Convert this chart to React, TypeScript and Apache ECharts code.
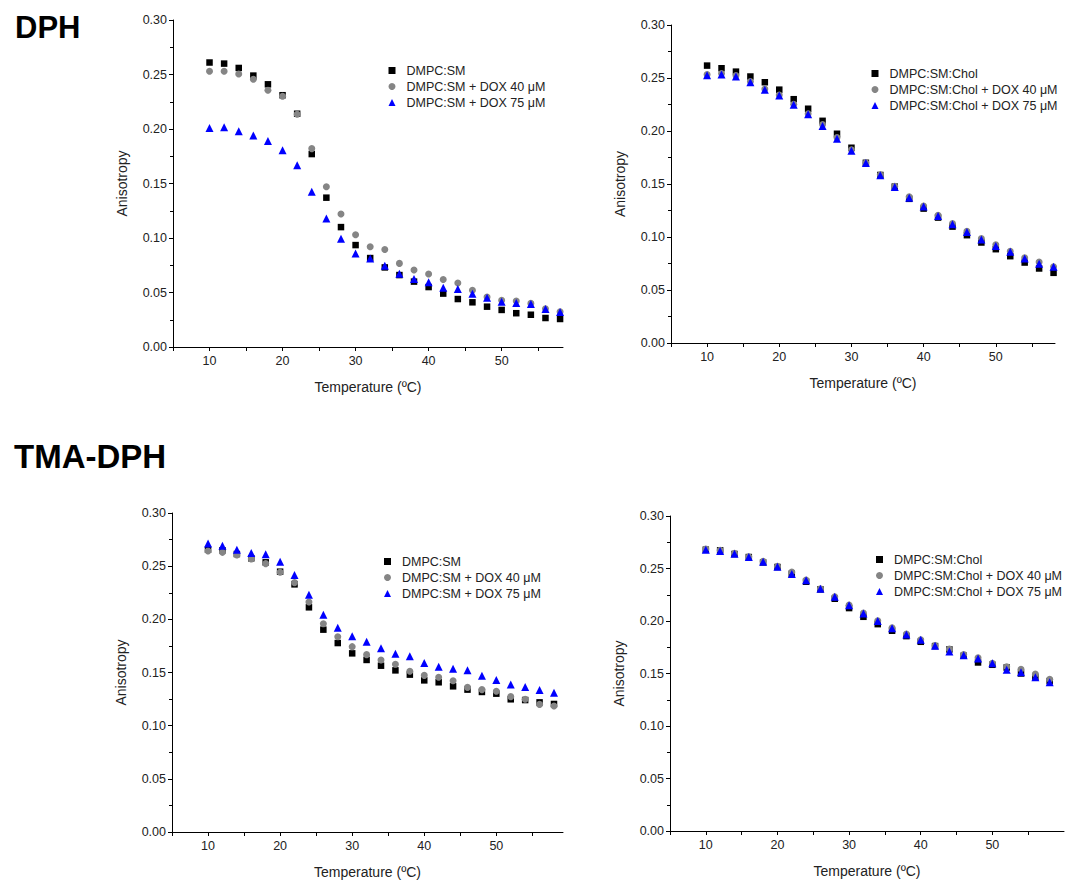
import React, { useEffect, useRef } from "react";
import * as echarts from "echarts";

const temps = [10, 12, 14, 16, 18, 20, 22, 24, 26, 28, 30, 32, 34, 36, 38, 40, 42, 44, 46, 48, 50, 52, 54, 56, 58];

// DPH, DMPC:SM
const dphSm = [0.261, 0.26, 0.256, 0.249, 0.241, 0.231, 0.214, 0.177, 0.137, 0.11, 0.0935, 0.0816, 0.073, 0.066, 0.06, 0.055, 0.049, 0.044, 0.041, 0.037, 0.034, 0.031, 0.0296, 0.0266, 0.0257];
const dphSm40 = [0.253, 0.253, 0.2505, 0.2457, 0.2356, 0.23, 0.2136, 0.182, 0.147, 0.122, 0.103, 0.092, 0.0895, 0.0767, 0.0706, 0.0669, 0.062, 0.0587, 0.052, 0.0458, 0.0428, 0.0422, 0.04, 0.035, 0.0324];
const dphSm75 = [0.201, 0.2017, 0.198, 0.194, 0.189, 0.1806, 0.1668, 0.1424, 0.118, 0.0993, 0.0858, 0.0813, 0.0745, 0.0672, 0.0623, 0.0593, 0.0544, 0.0532, 0.0489, 0.0452, 0.0416, 0.0403, 0.0394, 0.0348, 0.0321];

// DPH, DMPC:SM:Chol
const dphChol = [0.2617, 0.2592, 0.256, 0.2514, 0.246, 0.239, 0.23, 0.221, 0.2096, 0.1974, 0.1842, 0.17, 0.1585, 0.1475, 0.136, 0.1268, 0.1183, 0.1098, 0.1017, 0.0948, 0.0885, 0.0819, 0.0759, 0.0703, 0.0662];
const dphChol40 = [0.2532, 0.2542, 0.2523, 0.2466, 0.2397, 0.234, 0.2253, 0.2162, 0.2062, 0.1939, 0.1823, 0.17, 0.1588, 0.1478, 0.138, 0.1293, 0.1205, 0.1127, 0.1054, 0.0985, 0.0926, 0.0866, 0.0803, 0.0763, 0.0719];
const dphChol75 = [0.2526, 0.2532, 0.2514, 0.246, 0.239, 0.2335, 0.2247, 0.2159, 0.2046, 0.1927, 0.1814, 0.1698, 0.1582, 0.1472, 0.1371, 0.1287, 0.1199, 0.112, 0.1048, 0.0976, 0.0916, 0.086, 0.0797, 0.0747, 0.0719];

// TMA-DPH, DMPC:SM
const tmaSm = [0.2655, 0.2649, 0.2614, 0.2574, 0.2536, 0.2448, 0.2329, 0.2113, 0.1903, 0.1777, 0.168, 0.1618, 0.1564, 0.152, 0.148, 0.1426, 0.1408, 0.137, 0.1339, 0.1317, 0.1301, 0.1248, 0.1241, 0.1219, 0.1204];
const tmaSm40 = [0.2643, 0.263, 0.2605, 0.2567, 0.2524, 0.2442, 0.2345, 0.2163, 0.1959, 0.1837, 0.1743, 0.1668, 0.1618, 0.1577, 0.1511, 0.1473, 0.1455, 0.1423, 0.136, 0.1339, 0.1323, 0.1273, 0.1248, 0.12, 0.1185];
const tmaSm75 = [0.2712, 0.2693, 0.2655, 0.2624, 0.2611, 0.2542, 0.2417, 0.2232, 0.2044, 0.1922, 0.184, 0.179, 0.1727, 0.1677, 0.1652, 0.1589, 0.1555, 0.1536, 0.152, 0.147, 0.1429, 0.1386, 0.1364, 0.1335, 0.131];

// TMA-DPH, DMPC:SM:Chol
const tmaChol = [0.2679, 0.2673, 0.2638, 0.2609, 0.2558, 0.2514, 0.245, 0.2374, 0.2301, 0.2212, 0.2123, 0.204, 0.197, 0.1907, 0.1856, 0.1802, 0.1761, 0.1729, 0.1669, 0.1605, 0.1583, 0.1557, 0.15, 0.1468, 0.1427];
const tmaChol40 = [0.2685, 0.2673, 0.2644, 0.2612, 0.2568, 0.252, 0.2466, 0.239, 0.2307, 0.2231, 0.2151, 0.2075, 0.2002, 0.1935, 0.1875, 0.1821, 0.1767, 0.1732, 0.1681, 0.1649, 0.1598, 0.1564, 0.1541, 0.1494, 0.1446];
const tmaChol75 = [0.2679, 0.2666, 0.2641, 0.2609, 0.2565, 0.2517, 0.2447, 0.2387, 0.2307, 0.2231, 0.2151, 0.2072, 0.1999, 0.1932, 0.1872, 0.1821, 0.1764, 0.171, 0.1675, 0.1643, 0.1598, 0.1535, 0.1513, 0.1465, 0.1417];

const smNames = ["DMPC:SM", "DMPC:SM + DOX 40 μM", "DMPC:SM + DOX 75 μM"];
const cholNames = ["DMPC:SM:Chol", "DMPC:SM:Chol + DOX 40 μM", "DMPC:SM:Chol + DOX 75 μM"];
const panelTitles = ["DPH", "TMA-DPH"];
const yTicks = { min: 0, max: 0.3, interval: 0.05 };
const xRange = { min: 5, interval: 5 };

const FONT = "'Liberation Sans', Arial, sans-serif";

const panels = [
  { grid: { left: 173, top: 20, width: 390, height: 327 }, xMax: 58.4, names: smNames, data: [dphSm, dphSm40, dphSm75], legend: { left: 383.5, top: 59 } },
  { grid: { left: 671, top: 25, width: 384, height: 318 }, xMax: 58.2, names: cholNames, data: [dphChol, dphChol40, dphChol75], legend: { left: 866.5, top: 62 } },
  { grid: { left: 172, top: 513, width: 391, height: 319 }, xMax: 59.25, names: smNames, data: [tmaSm, tmaSm40, tmaSm75], legend: { left: 379, top: 550 } },
  { grid: { left: 670, top: 516, width: 394, height: 315 }, xMax: 60, names: cholNames, data: [tmaChol, tmaChol40, tmaChol75], legend: { left: 871, top: 548 } },
];

const markerStyles = [
  { symbol: "rect", symbolSize: 6.5, color: "#000000" },
  { symbol: "circle", symbolSize: 7, color: "#858585" },
  { symbol: "triangle", symbolSize: 8, color: "#0000ff" },
];

export default function App() {
  const ref = useRef<HTMLDivElement>(null);
  useEffect(() => {
    if (!ref.current) return;
    const chart = echarts.init(ref.current, undefined, { renderer: "svg" });
    const axisText = { color: "#222", fontSize: 12.5, fontFamily: FONT };
    const option: any = {
      animation: false,
      backgroundColor: "#ffffff",
      textStyle: { fontFamily: FONT },
      grid: panels.map((p) => ({ ...p.grid, containLabel: false, outerBoundsMode: "none" })),
      xAxis: panels.map((p, i) => ({
        type: "value",
        gridIndex: i,
        min: xRange.min,
        max: p.xMax,
        interval: xRange.interval,
        name: "Temperature (ºC)",
        nameLocation: "middle",
        nameGap: 33,
        nameTextStyle: { color: "#222", fontSize: 14, fontFamily: FONT },
        axisLine: { show: true, lineStyle: { color: "#000", width: 1 } },
        axisTick: { show: true, inside: false, length: 4, lineStyle: { color: "#000" } },
        axisLabel: {
          ...axisText,
          margin: 7,
          showMaxLabel: false,
          formatter: (v: number) => (Math.round(v) % 10 === 0 ? String(Math.round(v)) : ""),
        },
        splitLine: { show: false },
      })),
      yAxis: panels.map((p, i) => ({
        type: "value",
        gridIndex: i,
        min: yTicks.min,
        max: yTicks.max,
        interval: yTicks.interval,
        name: "Anisotropy",
        nameLocation: "middle",
        nameGap: 44,
        nameTextStyle: { color: "#222", fontSize: 14, fontFamily: FONT },
        axisLine: { show: true, lineStyle: { color: "#000", width: 1 } },
        axisTick: { show: true, inside: false, length: 4, lineStyle: { color: "#000" } },
        minorTick: { show: true, splitNumber: 2, length: 3, lineStyle: { color: "#000" } },
        axisLabel: { ...axisText, margin: 6, formatter: (v: number) => v.toFixed(2) },
        splitLine: { show: false },
      })),
      legend: panels.map((p) => ({
        orient: "vertical",
        left: p.legend.left,
        top: p.legend.top,
        itemWidth: 7,
        itemHeight: 7,
        itemGap: 3,
        selectedMode: false,
        textStyle: { color: "#222", fontSize: 12.5, fontFamily: FONT, padding: [0, 0, 0, 6] },
        data: p.names,
      })),
      graphic: [
        {
          type: "text",
          left: 15,
          top: 12,
          style: { text: panelTitles[0], font: `bold 31px ${FONT}`, fill: "#000" },
        },
        {
          type: "text",
          left: 14,
          top: 440,
          style: { text: panelTitles[1], font: `bold 33px ${FONT}`, fill: "#000" },
        },
      ],
      series: panels.flatMap((p, i) =>
        p.data.map((vals, k) => ({
          type: "scatter",
          name: p.names[k],
          xAxisIndex: i,
          yAxisIndex: i,
          symbol: markerStyles[k].symbol,
          symbolSize: markerStyles[k].symbolSize,
          itemStyle: { color: markerStyles[k].color, opacity: 1 },
          data: temps.map((t, j) => [t, vals[j]]),
          z: 2 + k,
        }))
      ),
    };
    chart.setOption(option);
    return () => chart.dispose();
  }, []);
  return <div ref={ref} style={{ position: "absolute", left: 0, top: 0, width: 1065, height: 880 }} />;
}
